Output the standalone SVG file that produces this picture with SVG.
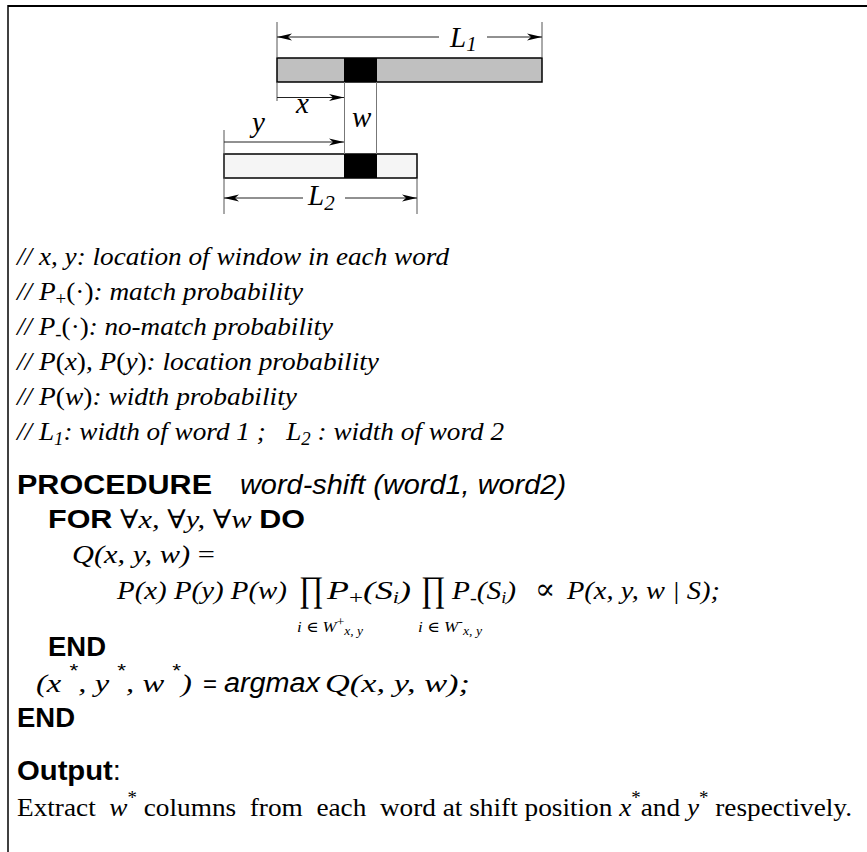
<svg xmlns="http://www.w3.org/2000/svg" width="867" height="852" viewBox="0 0 867 852">
<style>
.ti{font-family:"Liberation Serif","Times New Roman",serif;font-style:italic;fill:#000}
.tr{font-family:"Liberation Serif","DejaVu Serif",serif;font-style:normal}
.ab{font-family:"Liberation Sans",Arial,sans-serif;font-weight:bold;font-style:normal}
.an{font-family:"Liberation Sans",Arial,sans-serif;font-weight:normal;font-style:normal}
.ai{font-family:"Liberation Sans",Arial,sans-serif;font-style:italic}
.dim{stroke:#222;stroke-width:1;fill:none}
.tick{stroke:#555;stroke-width:1;fill:none}
.bar{stroke:#000;stroke-width:1.5}
</style>
<defs>
<marker id="ah" markerUnits="userSpaceOnUse" markerWidth="16" markerHeight="8" refX="15" refY="4" orient="auto">
<path d="M0,0.5 L15,4 L0,7.5 L4,4 z" fill="#000"/>
</marker>
</defs>
<g id="frame">
<line x1="8" y1="6" x2="867" y2="6" stroke="#000" stroke-width="2"/>
<line x1="8" y1="5" x2="8" y2="852" stroke="#000" stroke-width="1.5"/>
</g>
<g id="word1">
<rect x="277" y="58" width="265" height="24" fill="#c0c0c0" class="bar"/>
<rect x="344" y="58" width="33" height="24" fill="#000"/>
</g>
<g id="word2">
<rect x="224" y="154" width="193" height="24" fill="#f5f5f5" class="bar"/>
<rect x="344" y="154" width="33" height="24" fill="#000"/>
</g>
<g id="connectors">
<line x1="277" y1="22" x2="277" y2="57" class="tick"/>
<line x1="542" y1="22" x2="542" y2="57" class="tick"/>
<line x1="439" y1="37" x2="277" y2="37" class="dim" marker-end="url(#ah)"/>
<line x1="487" y1="37" x2="542" y2="37" class="dim" marker-end="url(#ah)"/>
<line x1="277" y1="82" x2="277" y2="101" class="tick"/>
<line x1="277" y1="97.5" x2="344" y2="97.5" class="dim" marker-end="url(#ah)"/>
<line x1="344.5" y1="82" x2="344.5" y2="154" stroke="#777" stroke-width="1"/>
<line x1="376.5" y1="82" x2="376.5" y2="154" stroke="#777" stroke-width="1"/>
<line x1="224" y1="130" x2="224" y2="214" class="tick"/>
<line x1="224" y1="142" x2="344" y2="142" class="dim" marker-end="url(#ah)"/>
<line x1="417" y1="178" x2="417" y2="214" class="tick"/>
<line x1="303" y1="198" x2="224" y2="198" class="dim" marker-end="url(#ah)"/>
<line x1="345" y1="198" x2="417" y2="198" class="dim" marker-end="url(#ah)"/>
</g>
<g id="labels">
<text x="450" y="47" class="ti" font-size="29">L<tspan font-size="21" dy="4">1</tspan></text>
<text x="296" y="113" class="ti" font-size="29">x</text>
<text x="352" y="127" class="ti" font-size="29">w</text>
<text x="252" y="132" class="ti" font-size="29">y</text>
<text x="308" y="205" class="ti" font-size="29">L<tspan font-size="21" dy="5">2</tspan></text>
</g>
<g id="comments" class="ti" font-size="26">
<text x="17" y="265" textLength="432" lengthAdjust="spacingAndGlyphs">// x, y: location of window in each word</text>
<text x="17" y="300" textLength="286" lengthAdjust="spacingAndGlyphs">// P<tspan dy="5" font-size="18" class="tr">+</tspan><tspan dy="-5" class="tr">(·)</tspan>: match probability</text>
<text x="17" y="335" textLength="316" lengthAdjust="spacingAndGlyphs">// P<tspan dy="5" font-size="18" class="tr">-</tspan><tspan dy="-5" class="tr">(·)</tspan>: no-match probability</text>
<text x="17" y="370" textLength="362" lengthAdjust="spacingAndGlyphs">// P<tspan class="tr">(</tspan>x<tspan class="tr">)</tspan>, P<tspan class="tr">(</tspan>y<tspan class="tr">)</tspan>: location probability</text>
<text x="17" y="405" textLength="280" lengthAdjust="spacingAndGlyphs">// P<tspan class="tr">(</tspan>w<tspan class="tr">)</tspan>: width probability</text>
<text x="17" y="440" textLength="487" lengthAdjust="spacingAndGlyphs" xml:space="preserve">// L<tspan dy="5" font-size="18">1</tspan><tspan dy="-5">: width of word 1 ;   L</tspan><tspan dy="5" font-size="18">2</tspan><tspan dy="-5"> : width of word 2</tspan></text>
</g>
<g id="procedure">
<text x="17" y="494" class="ab" font-size="27" textLength="195" lengthAdjust="spacingAndGlyphs">PROCEDURE</text>
<text x="240" y="494" class="ai" font-size="27" textLength="326" lengthAdjust="spacingAndGlyphs">word-shift (word1, word2)</text>
<text x="48" y="528" class="ti" font-size="26" textLength="257" lengthAdjust="spacingAndGlyphs"><tspan class="ab">FOR</tspan> <tspan class="tr">∀</tspan>x, <tspan class="tr">∀</tspan>y, <tspan class="tr">∀</tspan>w <tspan class="ab">DO</tspan></text>
<text x="72" y="563" class="ti" font-size="26" textLength="143" lengthAdjust="spacingAndGlyphs">Q(x, y, w) <tspan class="tr">=</tspan></text>
<text x="117" y="599" class="ti" font-size="26" textLength="170" lengthAdjust="spacingAndGlyphs">P(x) P(y) P(w)</text>
<text transform="translate(299,601) scale(1,1.2)" class="tr" font-size="30">∏</text>
<text x="327" y="599" class="ti" font-size="26" textLength="84" lengthAdjust="spacingAndGlyphs">P<tspan dy="5" font-size="18" class="tr">+</tspan><tspan dy="-5">(S</tspan><tspan dy="4" font-size="16">i</tspan><tspan dy="-4">)</tspan></text>
<text transform="translate(421,601) scale(1,1.2)" class="tr" font-size="30">∏</text>
<text x="452" y="599" class="ti" font-size="26" textLength="64" lengthAdjust="spacingAndGlyphs">P<tspan dy="5" font-size="18" class="tr">-</tspan><tspan dy="-5">(S</tspan><tspan dy="4" font-size="16">i</tspan><tspan dy="-4">)</tspan></text>
<text x="535" y="599" class="tr" font-size="30">∝</text>
<text x="567" y="599" class="ti" font-size="26" textLength="153" lengthAdjust="spacingAndGlyphs">P(x, y, w | S);</text>
<text x="297" y="632" class="ti" font-size="15" textLength="66" lengthAdjust="spacingAndGlyphs">i <tspan class="tr">∈</tspan> W<tspan dy="-6" font-size="12" class="tr">+</tspan><tspan dy="9" font-size="12">x, y</tspan></text>
<text x="418" y="632" class="ti" font-size="15" textLength="64" lengthAdjust="spacingAndGlyphs">i <tspan class="tr">∈</tspan> W<tspan dy="-6" font-size="12" class="tr">-</tspan><tspan dy="9" font-size="12">x, y</tspan></text>
<text x="48" y="656" class="ab" font-size="27" textLength="58" lengthAdjust="spacingAndGlyphs">END</text>
<text x="36" y="692" class="ti" font-size="26" textLength="156" lengthAdjust="spacingAndGlyphs" xml:space="preserve">(x <tspan dy="-15" font-size="18" class="an">*</tspan><tspan dy="15">, y </tspan><tspan dy="-15" font-size="18" class="an">*</tspan><tspan dy="15">, w </tspan><tspan dy="-15" font-size="18" class="an">*</tspan><tspan dy="15">)</tspan></text>
<text x="203" y="692" class="an" font-size="24">=</text>
<text x="224" y="692" class="ai" font-size="27" textLength="96" lengthAdjust="spacingAndGlyphs">argmax</text>
<text x="325" y="692" class="ti" font-size="26" textLength="145" lengthAdjust="spacingAndGlyphs">Q(x, y, w);</text>
<text x="17" y="727" class="ab" font-size="27" textLength="58" lengthAdjust="spacingAndGlyphs">END</text>
</g>
<g id="output">
<text x="17" y="780" font-size="27" textLength="104" lengthAdjust="spacingAndGlyphs"><tspan class="ab">Output</tspan><tspan class="an">:</tspan></text>
<text x="17" y="816" class="tr" font-size="26" textLength="835" lengthAdjust="spacingAndGlyphs" xml:space="preserve">Extract  <tspan class="ti">w</tspan><tspan dy="-12" font-size="18">*</tspan><tspan dy="12"> columns  from  each  word at shift position </tspan><tspan class="ti">x</tspan><tspan dy="-12" font-size="18">*</tspan><tspan dy="12">and </tspan><tspan class="ti">y</tspan><tspan dy="-12" font-size="18">*</tspan><tspan dy="12"> respectively.</tspan></text>
</g>
</svg>
